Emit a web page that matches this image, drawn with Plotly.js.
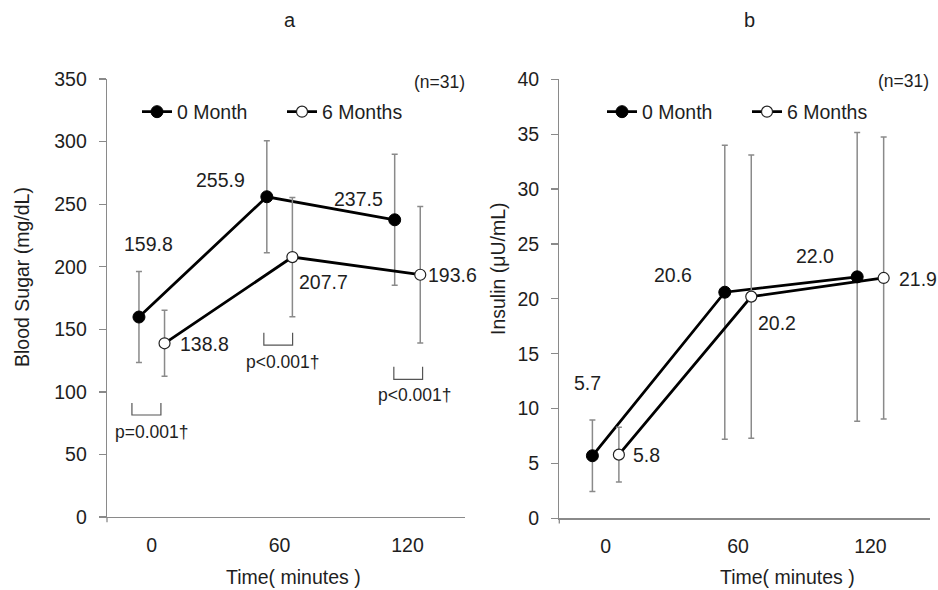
<!DOCTYPE html>
<html>
<head>
<meta charset="utf-8">
<script src="https://cdn.plot.ly/plotly-3.0.1.min.js"></script>
<style>html,body{margin:0;padding:0;background:#fff;}#chart{width:938px;height:590px;}</style>
</head>
<body>
<div id="chart"></div>
<script>
// ---- data ----
const timePoints = [0, 60, 120];
const tickLabels = ['0', '60', '120'];
const seriesNames = ['0 Month', '6 Months'];
const sugar0 = [159.8, 255.9, 237.5];
const sugar6 = [138.8, 207.7, 193.6];
const sugarSD0 = [36.4, 44.8, 52.4];
const sugarSD6 = [26.4, 47.6, 54.5];
const insulin0 = [5.7, 20.6, 22.0];
const insulin6 = [5.8, 20.2, 21.9];
const insulinSD0 = [3.25, 13.4, 13.15];
const insulinSD6 = [2.5, 12.9, 12.85];
const pLabels = ['p=0.001\u2020', 'p<0.001\u2020', 'p<0.001\u2020'];
const nLabel = '(n=31)';
const panelTitles = ['a', 'b'];
const xTitle = 'Time( minutes )';
const yTitles = ['Blood Sugar (mg/dL)', 'Insulin (\u03bcU/mL)'];

// ---- style ----
const FONT = 'Liberation Sans, Arial, sans-serif';
const TXT = '#1e1e1e';
const GREY = '#8a8a8a';
const OFF = 6; // horizontal dodge between the two series (minutes)
const shift = (arr, d) => arr.map(v => v + d);

function series(name, x, y, sd, filled, xa, ya, legend, showlegend) {
  return {
    type: 'scatter', mode: 'lines+markers', name: name,
    x: x, y: y, xaxis: xa, yaxis: ya, legend: legend, showlegend: showlegend,
    line: {color: '#000', width: 2.8},
    marker: filled ? {size: 12, color: '#000', line: {color: '#000', width: 1}}
                   : {size: 11, color: '#fff', line: {color: '#222', width: 1.2}},
    error_y: {type: 'data', array: sd, visible: true, color: GREY, thickness: 1.5, width: 3},
    cliponaxis: false
  };
}

const traces = [
  series(seriesNames[0], shift(timePoints, -OFF), sugar0, sugarSD0, true, 'x', 'y', 'legend', true),
  series(seriesNames[1], shift(timePoints, OFF), sugar6, sugarSD6, false, 'x', 'y', 'legend', true),
  series(seriesNames[0], shift(timePoints, -OFF), insulin0, insulinSD0, true, 'x2', 'y2', 'legend2', true),
  series(seriesNames[1], shift(timePoints, OFF), insulin6, insulinSD6, false, 'x2', 'y2', 'legend2', true)
];

const axisX = (domain, anchor) => ({
  domain: domain, anchor: anchor, range: [-21, 147],
  tickvals: timePoints, ticktext: tickLabels,
  showline: true, linecolor: GREY, linewidth: 1.3,
  showgrid: false, zeroline: false, ticks: '', ticklabelstandoff: 10,
  tickfont: {family: FONT, size: 19.5, color: TXT}, fixedrange: true
});
const axisY = (domain, anchor, range, dtick) => ({
  domain: domain, anchor: anchor, range: range, dtick: dtick,
  showline: true, linecolor: GREY, linewidth: 1.3,
  showgrid: false, zeroline: false, ticks: 'outside', ticklen: 7, tickcolor: GREY, tickwidth: 1.3,
  ticklabelstandoff: 8,
  tickfont: {family: FONT, size: 19.5, color: TXT}, fixedrange: true
});

// value labels
const valueLabels = [];
const addLabels = (xa, ya, xs, ys, shifts) => ys.forEach((v, i) => {
  valueLabels.push({xref: xa, yref: ya, x: xs[i], y: v, text: v.toFixed(1),
    xshift: shifts[i][0], yshift: shifts[i][1], showarrow: false,
    font: {family: FONT, size: 19.5, color: TXT}});
});
addLabels('x', 'y', shift(timePoints, -OFF), sugar0, [[10, 73], [-46, 17], [-36, 21]]);
addLabels('x', 'y', shift(timePoints, OFF), sugar6, [[40, -1], [31, -25], [32, 0]]);
addLabels('x2', 'y2', shift(timePoints, -OFF), insulin0, [[-5, 73], [-52, 17], [-42, 21]]);
addLabels('x2', 'y2', shift(timePoints, OFF), insulin6, [[28, 0], [26, -26], [34, -1]]);

// significance brackets (left panel)
const bracketGeom = [[-9.3, 4.3, 91.1, 81.5, 0, 68.2], [52.6, 66.1, 147.3, 137.4, 61.5, 124.1], [113.6, 127.1, 120.1, 110.0, 123.4, 97.5]];
const shapes = bracketGeom.map(g => ({
  type: 'path', xref: 'x', yref: 'y',
  path: `M${g[0]},${g[2]} L${g[0]},${g[3]} L${g[1]},${g[3]} L${g[1]},${g[2]}`,
  line: {color: '#555', width: 1.2}
}));
// small extension of the y axis lines below the x axes
shapes.push({type: 'line', xref: 'x domain', yref: 'y domain', x0: 0, x1: 0, y0: 0, y1: -0.012, line: {color: GREY, width: 1.3}});
shapes.push({type: 'line', xref: 'x2 domain', yref: 'y2 domain', x0: 0, x1: 0, y0: 0, y1: -0.012, line: {color: GREY, width: 1.3}});

const pAnn = bracketGeom.map((g, i) => ({
  xref: 'x', yref: 'y', x: g[4], y: g[5], text: pLabels[i], showarrow: false,
  font: {family: FONT, size: 17.5, color: TXT}
}));

const paperText = (x, y, text, size, angle) => ({
  xref: 'paper', yref: 'paper', x: x, y: y, text: text, showarrow: false,
  xanchor: 'center', yanchor: 'middle', textangle: angle || 0,
  font: {family: FONT, size: size, color: TXT}
});

const annotations = [
  ...valueLabels, ...pAnn,
  paperText(290 / 938, 1 - 20 / 590, panelTitles[0], 20),
  paperText(749 / 938, 1 - 20 / 590, panelTitles[1], 20),
  paperText(439 / 938, 1 - 82 / 590, nLabel, 17.5),
  paperText(903 / 938, 1 - 81 / 590, nLabel, 17.5),
  paperText(293 / 938, 1 - 577 / 590, xTitle, 19.5),
  paperText(787 / 938, 1 - 577 / 590, xTitle, 19.5),
  paperText(22 / 938, 1 - 277 / 590, yTitles[0], 19.5, -90),
  paperText(498 / 938, 1 - 268 / 590, yTitles[1], 19.5, -90)
];

const legendStyle = (x) => ({
  x: x, xanchor: 'left', y: 1 - 112 / 590, yanchor: 'middle',
  orientation: 'h', bgcolor: 'rgba(0,0,0,0)', borderwidth: 0,
  itemwidth: 30, entrywidth: 100, tracegroupgap: 0,
  font: {family: FONT, size: 19.5, color: TXT}
});

const layout = {
  width: 938, height: 590,
  margin: {l: 0, r: 0, t: 0, b: 0},
  paper_bgcolor: '#fff', plot_bgcolor: '#fff',
  font: {family: FONT, color: TXT},
  xaxis: axisX([107 / 938, 465 / 938], 'y'),
  yaxis: axisY([0.1237, 0.8661], 'x', [0, 350], 50),
  xaxis2: axisX([559.3 / 938, 930 / 938], 'y2'),
  yaxis2: axisY([0.1215, 0.8656], 'x2', [0, 40], 5),
  legend: legendStyle(137 / 938),
  legend2: legendStyle(602 / 938),
  shapes: shapes,
  annotations: annotations
};

Plotly.newPlot('chart', traces, layout, {displayModeBar: false, staticPlot: true});
</script>
</body>
</html>
